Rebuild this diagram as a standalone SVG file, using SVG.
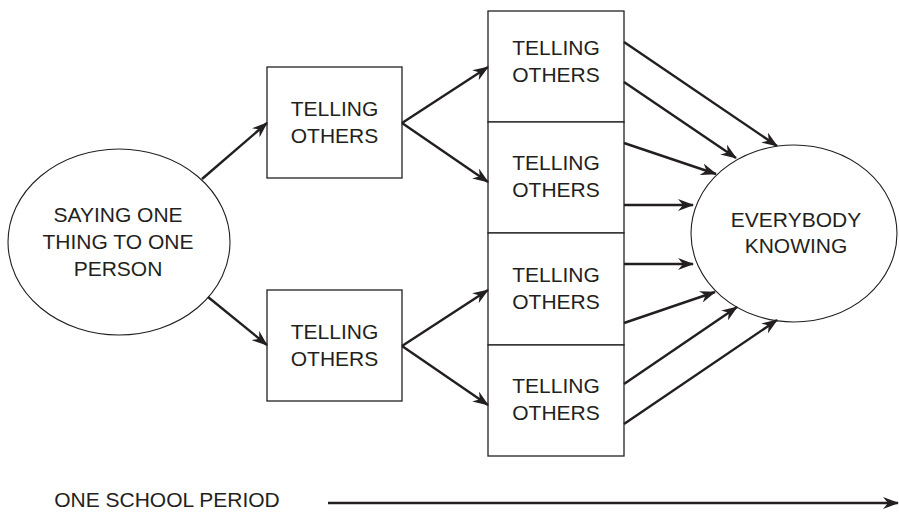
<svg xmlns="http://www.w3.org/2000/svg" width="899" height="512" viewBox="0 0 899 512">
<defs>
<marker id="ah" viewBox="0 0 16 12" refX="15" refY="6" markerWidth="16" markerHeight="12" markerUnits="userSpaceOnUse" orient="auto">
<path d="M0,0 L16,6 L0,12 L5,6 z" fill="#231f20"/>
</marker>
<style>
.shape{fill:#fff;stroke:#231f20;stroke-width:1.3}
.ell{fill:#fff;stroke:#231f20;stroke-width:1.1}
.lbl{font-family:"Liberation Sans",Arial,Helvetica,sans-serif;font-size:21px;fill:#231f20;text-anchor:middle}
.con line{stroke:#231f20;stroke-width:2.4;marker-end:url(#ah)}
</style>
</defs>
<rect width="899" height="512" fill="#fff"/>
<g id="start">
<ellipse class="ell" cx="119" cy="242" rx="111" ry="93"/>
<text class="lbl" x="118" y="222">SAYING ONE</text>
<text class="lbl" x="118" y="249">THING TO ONE</text>
<text class="lbl" x="118" y="276">PERSON</text>
</g>
<g id="mid1">
<rect class="shape" x="267" y="67" width="135" height="111"/>
<text class="lbl" x="334.5" y="116">TELLING</text>
<text class="lbl" x="334.5" y="143">OTHERS</text>
</g>
<g id="mid2">
<rect class="shape" x="267" y="290" width="135" height="111"/>
<text class="lbl" x="334.5" y="339">TELLING</text>
<text class="lbl" x="334.5" y="366">OTHERS</text>
</g>
<g id="right1">
<rect class="shape" x="488" y="11" width="136" height="111"/>
<text class="lbl" x="556" y="55">TELLING</text>
<text class="lbl" x="556" y="82">OTHERS</text>
</g>
<g id="right2">
<rect class="shape" x="488" y="122" width="136" height="111"/>
<text class="lbl" x="556" y="170">TELLING</text>
<text class="lbl" x="556" y="197">OTHERS</text>
</g>
<g id="right3">
<rect class="shape" x="488" y="233" width="136" height="112"/>
<text class="lbl" x="556" y="282">TELLING</text>
<text class="lbl" x="556" y="309">OTHERS</text>
</g>
<g id="right4">
<rect class="shape" x="488" y="345" width="136" height="111"/>
<text class="lbl" x="556" y="393">TELLING</text>
<text class="lbl" x="556" y="420">OTHERS</text>
</g>
<g id="end">
<ellipse class="ell" cx="794" cy="233.5" rx="103" ry="88.5"/>
<text class="lbl" x="796" y="227">EVERYBODY</text>
<text class="lbl" x="796" y="253">KNOWING</text>
</g>
<g id="time">
<text class="lbl" x="167" y="507">ONE SCHOOL PERIOD</text>
</g>
<g id="connectors" class="con">
<line x1="202" y1="179" x2="267" y2="123"/>
<line x1="208" y1="297" x2="267" y2="345"/>
<line x1="402" y1="123" x2="488" y2="67"/>
<line x1="402" y1="123" x2="488" y2="182"/>
<line x1="402" y1="346" x2="488" y2="290"/>
<line x1="402" y1="346" x2="488" y2="405"/>
<line x1="624" y1="42" x2="777" y2="146"/>
<line x1="624" y1="82" x2="736" y2="158"/>
<line x1="624" y1="143" x2="716" y2="174"/>
<line x1="624" y1="205" x2="693" y2="205"/>
<line x1="624" y1="264" x2="693" y2="264"/>
<line x1="624" y1="323" x2="715" y2="292"/>
<line x1="624" y1="384" x2="737" y2="307"/>
<line x1="624" y1="424" x2="777" y2="320"/>
<line x1="328" y1="503" x2="898" y2="503"/>
</g>
</svg>
